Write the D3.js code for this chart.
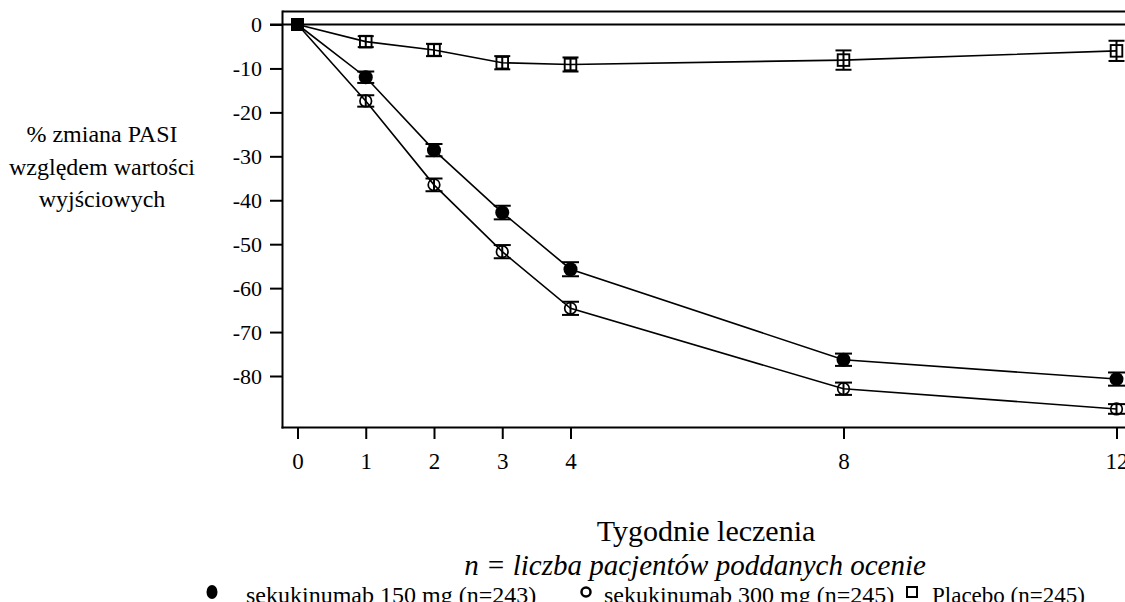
<!DOCTYPE html>
<html><head><meta charset="utf-8">
<script src="https://cdn.jsdelivr.net/npm/d3@7"></script>
<style>body{margin:0;background:#fff}svg{display:block}text{font-family:"Liberation Serif","Times New Roman",Times,serif;fill:#000}</style>
</head><body>
<svg id="c" width="1125" height="602"></svg>
<script>
const weeks = [0, 1, 2, 3, 4, 8, 12];
const xTicks = [0, 1, 2, 3, 4, 8, 12];
const yTicks = [0, -10, -20, -30, -40, -50, -60, -70, -80];
const seriesNames = ["sekukinumab 150 mg (n=243)", "sekukinumab 300 mg (n=245)", "Placebo (n=245)"];
const sec150 = [0, -12.0, -28.6, -42.8, -55.7, -76.3, -80.7];
const sec150Err = [0, 1.3, 1.4, 1.55, 1.6, 1.4, 1.5];
const sec300 = [0, -17.4, -36.5, -51.7, -64.6, -82.9, -87.5];
const sec300Err = [0, 1.3, 1.45, 1.5, 1.5, 1.4, 1.1];
const placebo = [0, -3.9, -5.8, -8.7, -9.1, -8.1, -6.0];
const placeboErr = [0, 1.25, 1.4, 1.5, 1.6, 2.2, 2.3];
const yLabel = ["% zmiana PASI", "względem wartości", "wyjściowych"];
const xTitle = "Tygodnie leczenia";
const xSub = "n = liczba pacjentów poddanych ocenie";

const svg = d3.select("#c");
const x = d3.scaleLinear().domain([0, 12]).range([297.5, 1116.5]);
const y = d3.scaleLinear().domain([0, -80]).range([24.5, 376]);
const axX = 282.5, topY = 11.5, botY = 427.5, rightX = 1140;

// frame
const g = svg.append("g").attr("stroke", "#000").attr("fill", "none");
g.append("line").attr("x1", axX).attr("x2", axX).attr("y1", topY - 1).attr("y2", botY + 1).attr("stroke-width", 2);
g.append("line").attr("x1", axX).attr("x2", rightX).attr("y1", topY).attr("y2", topY).attr("stroke-width", 2);
g.append("line").attr("x1", axX - 1).attr("x2", rightX).attr("y1", botY).attr("y2", botY).attr("stroke-width", 2);
g.append("line").attr("x1", 270).attr("x2", rightX).attr("y1", y(0)).attr("y2", y(0)).attr("stroke-width", 1.8);

// y axis
const yAxis = d3.axisLeft(y).tickValues(yTicks).tickSize(12.5).tickPadding(8).tickFormat(d => String(d));
const ya = svg.append("g").attr("transform", `translate(${axX},0)`).call(yAxis);
ya.select(".domain").remove();
ya.selectAll(".tick line").attr("stroke", "#000").attr("stroke-width", 2);
ya.selectAll(".tick text").attr("font-size", 22).attr("font-family", null).attr("fill", "#000").attr("dy", "0.34em");

// x axis
const xAxis = d3.axisBottom(x).tickValues(xTicks).tickSize(11.5).tickPadding(14).tickFormat(d => String(d));
const xa = svg.append("g").attr("transform", `translate(0,${botY})`).call(xAxis);
xa.select(".domain").remove();
xa.selectAll(".tick line").attr("stroke", "#000").attr("stroke-width", 2);
xa.selectAll(".tick text").attr("font-size", 23).attr("font-family", null).attr("fill", "#000").attr("dy", "0.71em");

// y label
svg.append("g").selectAll("text").data(yLabel).join("text")
  .attr("x", 102).attr("y", (d, i) => 142 + i * 32.5).attr("text-anchor", "middle").attr("font-size", 24).text(d => d);

// titles
svg.append("text").attr("x", 706).attr("y", 541).attr("text-anchor", "middle").attr("font-size", 30).text(xTitle);
svg.append("text").attr("x", 695).attr("y", 575).attr("text-anchor", "middle").attr("font-size", 29).attr("font-style", "italic").text(xSub);

// data
const series = [
  {vals: sec150, err: sec150Err, type: "filled"},
  {vals: sec300, err: sec300Err, type: "open"},
  {vals: placebo, err: placeboErr, type: "square"}
];
const line = d3.line().x(d => x(d.w)).y(d => y(d.v));
const plot = svg.append("g");
series.forEach(s => {
  const pts = weeks.map((w, i) => ({w, v: s.vals[i], e: s.err[i]}));
  plot.append("path").datum(pts).attr("d", line).attr("fill", "none").attr("stroke", "#000").attr("stroke-width", 1.6);
  const p = pts.filter(d => d.w > 0);
  const cap = s.type === "square" ? 8 : 8.5;
  const eb = plot.append("g").attr("stroke", "#000").attr("stroke-width", 2);
  eb.selectAll(".v").data(p).join("line").attr("x1", d => x(d.w)).attr("x2", d => x(d.w)).attr("y1", d => y(d.v - d.e)).attr("y2", d => y(d.v + d.e));
  eb.selectAll(".t").data(p).join("line").attr("x1", d => x(d.w) - cap).attr("x2", d => x(d.w) + cap).attr("y1", d => y(d.v + d.e)).attr("y2", d => y(d.v + d.e));
  eb.selectAll(".b").data(p).join("line").attr("x1", d => x(d.w) - cap).attr("x2", d => x(d.w) + cap).attr("y1", d => y(d.v - d.e)).attr("y2", d => y(d.v - d.e));
  if (s.type === "filled") {
    plot.append("g").selectAll("circle").data(p).join("circle").attr("cx", d => x(d.w)).attr("cy", d => y(d.v)).attr("r", 7).attr("fill", "#000");
  } else if (s.type === "open") {
    plot.append("g").selectAll("circle").data(p).join("circle").attr("cx", d => x(d.w)).attr("cy", d => y(d.v)).attr("r", 5.8).attr("fill", "none").attr("stroke", "#000").attr("stroke-width", 1.7);
  } else {
    plot.append("g").selectAll("rect").data(p).join("rect").attr("x", d => x(d.w) - 5.8).attr("y", d => y(d.v) - 5.8).attr("width", 11.6).attr("height", 11.6).attr("fill", "none").attr("stroke", "#000").attr("stroke-width", 1.9);
  }
});
// baseline marker (all series coincide at week 0)
plot.append("rect").datum({w: weeks[0], v: placebo[0]}).attr("x", d => x(d.w) - 6.5).attr("y", d => y(d.v) - 6.5).attr("width", 13).attr("height", 13).attr("fill", "#000");

// legend
const leg = svg.append("g");
const legY = 592;
leg.append("ellipse").attr("cx", 212).attr("cy", legY).attr("rx", 5.5).attr("ry", 7).attr("fill", "#000");
leg.append("text").attr("x", 246).attr("y", 603).attr("font-size", 24).text(seriesNames[0]);
leg.append("circle").attr("cx", 586).attr("cy", legY).attr("r", 4.5).attr("fill", "none").attr("stroke", "#000").attr("stroke-width", 2.5);
leg.append("text").attr("x", 604).attr("y", 603).attr("font-size", 24).text(seriesNames[1]);
leg.append("rect").attr("x", 907).attr("y", legY - 5).attr("width", 10).attr("height", 10).attr("fill", "none").attr("stroke", "#000").attr("stroke-width", 2);
leg.append("text").attr("x", 932).attr("y", 603).attr("font-size", 23).text(seriesNames[2]);
</script>
</body></html>
